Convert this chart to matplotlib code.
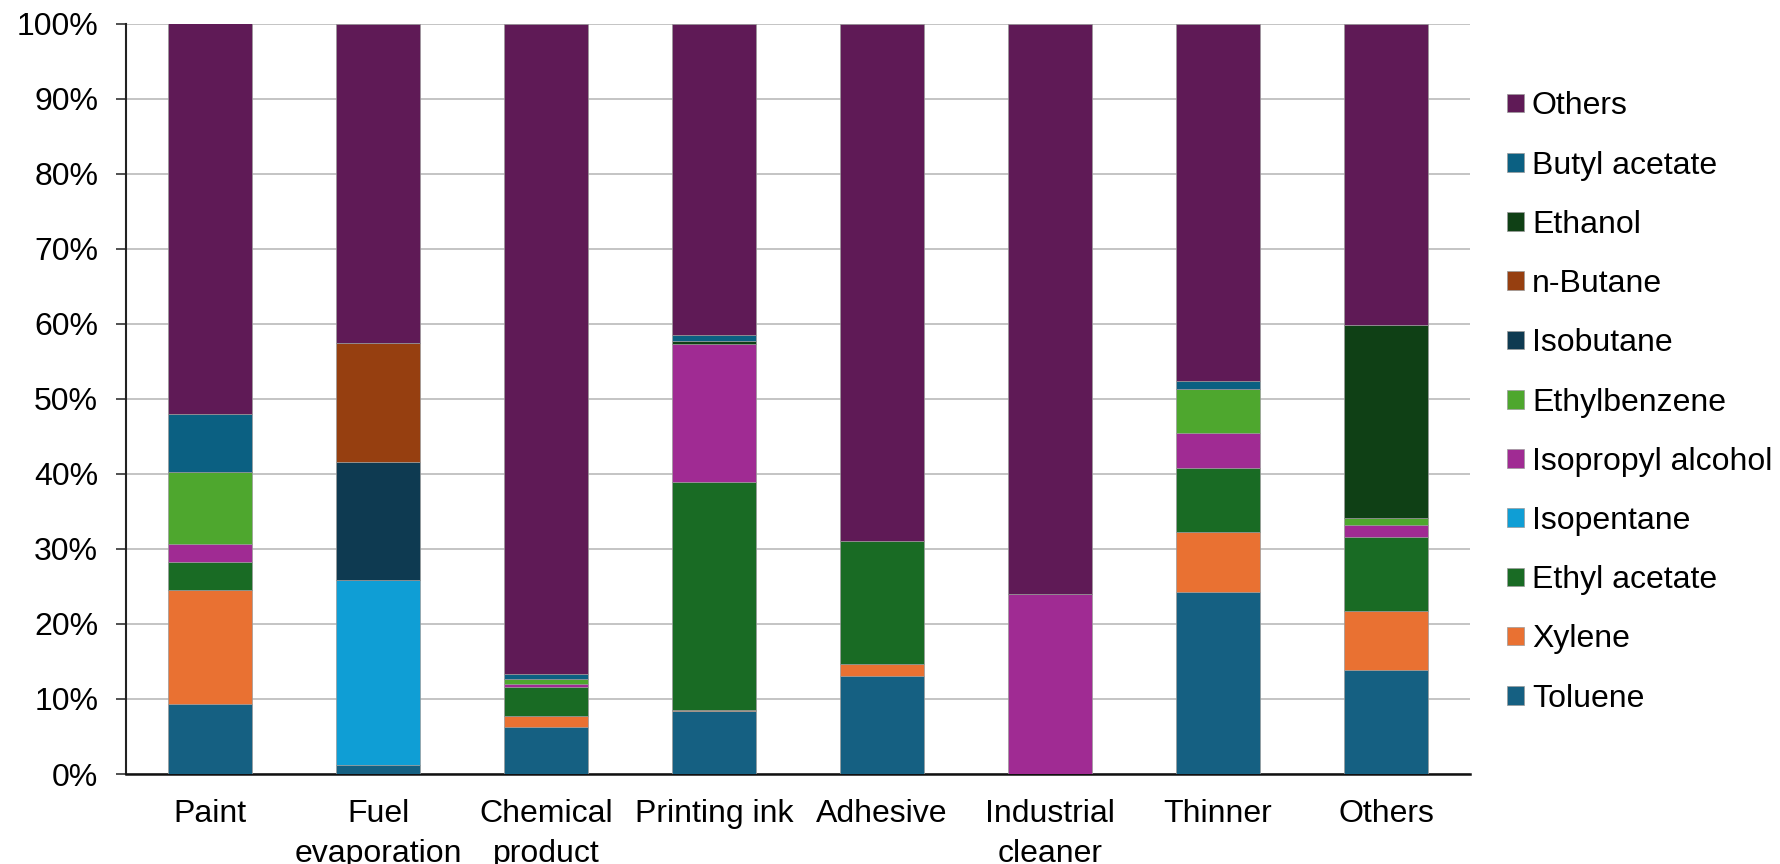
import matplotlib
matplotlib.use("Agg")
import matplotlib.pyplot as plt
import numpy as np

plt.rcParams['font.family'] = ['Liberation Sans', 'DejaVu Sans']

categories = ["Paint", "Fuel\nevaporation", "Chemical\nproduct", "Printing ink",
              "Adhesive", "Industrial\ncleaner", "Thinner", "Others"]

# stacking order bottom -> top (values in %)
toluene        = [9.3, 1.2, 6.3, 8.4, 13.1, 0.0, 24.2, 13.8]
xylene         = [15.2, 0.0, 1.4, 0.15, 1.6, 0.0, 8.1, 7.9]
ethyl_acetate  = [3.8, 0.0, 3.9, 30.35, 16.3, 0.0, 8.5, 9.9]
isopentane     = [0.0, 24.7, 0.0, 0.0, 0.0, 0.0, 0.0, 0.0]
isopropyl      = [2.4, 0.0, 0.4, 18.4, 0.0, 24.0, 4.7, 1.6]
ethylbenzene   = [9.6, 0.0, 0.7, 0.0, 0.0, 0.0, 5.8, 0.9]
isobutane      = [0.0, 15.7, 0.0, 0.0, 0.0, 0.0, 0.0, 0.0]
n_butane       = [0.0, 15.8, 0.0, 0.0, 0.0, 0.0, 0.0, 0.0]
ethanol        = [0.0, 0.0, 0.0, 0.4, 0.0, 0.0, 0.0, 25.7]
butyl_acetate  = [7.7, 0.0, 0.6, 0.8, 0.0, 0.0, 1.1, 0.0]
others         = [52.1, 42.6, 86.7, 41.5, 69.0, 76.0, 47.6, 40.2]

series_names = ["Toluene", "Xylene", "Ethyl acetate", "Isopentane", "Isopropyl alcohol",
                "Ethylbenzene", "Isobutane", "n-Butane", "Ethanol", "Butyl acetate", "Others"]
series_vals = [toluene, xylene, ethyl_acetate, isopentane, isopropyl, ethylbenzene,
               isobutane, n_butane, ethanol, butyl_acetate, others]
colors = ["#156082", "#E97132", "#196B24", "#0F9ED5", "#A02B93", "#4EA72E",
          "#0E3A51", "#963F10", "#0F4015", "#0B6082", "#5F1A56"]

yticks = [0, 10, 20, 30, 40, 50, 60, 70, 80, 90, 100]
ytick_labels = [f"{v}%" for v in yticks]

FS = 23

fig = plt.figure(figsize=(17.8, 8.64), dpi=100)
ax = fig.add_axes([126/1780, 1-774/864, (1470-126)/1780, (774-23.5)/864])

x = np.arange(len(categories))
bottom = np.zeros(len(categories))
handles = []
for name, vals, c in zip(series_names, series_vals, colors):
    v = np.array(vals, dtype=float)
    h = ax.bar(x, v, 0.5, bottom=bottom, color=c, edgecolor="#9a9a9a",
               linewidth=0.5, label=name, zorder=3)
    handles.append(h)
    bottom += v

ax.set_xlim(-0.5, len(categories) - 0.5)
ax.set_ylim(0, 100)
ax.set_yticks(yticks)
ax.set_yticklabels(ytick_labels, fontsize=FS)
ax.set_xticks(x)
ax.set_xticklabels(categories, fontsize=FS, linespacing=1.42)
ax.tick_params(axis='x', length=0, pad=18)
ax.tick_params(axis='y', length=7, width=1.2, color="#333333", pad=13)
ax.yaxis.grid(True, color="#c4c4c4", linewidth=1.4, zorder=0)
ax.set_axisbelow(True)
for s in ["top", "right"]:
    ax.spines[s].set_visible(False)
ax.spines["left"].set_linewidth(1.5)
ax.spines["left"].set_color("#222222")
ax.spines["bottom"].set_linewidth(1.8)
ax.spines["bottom"].set_color("#111111")

leg = ax.legend(handles[::-1], series_names[::-1], loc="upper left",
                bbox_to_anchor=(1501/1780, 1-85/864), bbox_transform=fig.transFigure,
                frameon=False, fontsize=FS, handlelength=0.52, handleheight=0.52,
                handletextpad=0.25, labelspacing=0.915, borderaxespad=0, borderpad=0.2)

fig.savefig("out.png", dpi=100)
